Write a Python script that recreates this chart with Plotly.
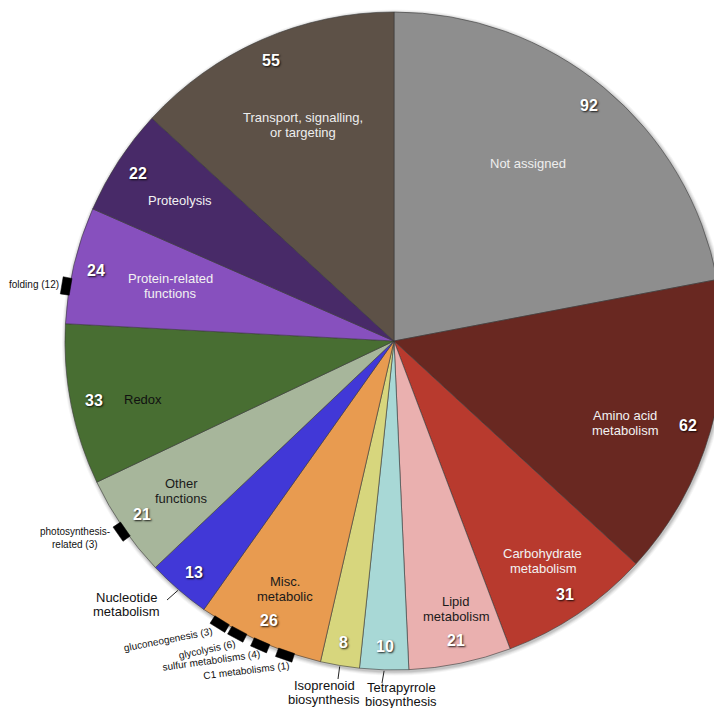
import math
import plotly.graph_objects as go

# ---------------- data ----------------
categories = ["Not assigned", "Amino acid metabolism", "Carbohydrate metabolism",
              "Lipid metabolism", "Tetrapyrrole biosynthesis", "Isoprenoid biosynthesis",
              "Misc. metabolic", "Nucleotide metabolism", "Other functions", "Redox",
              "Protein-related functions", "Proteolysis", "Transport, signalling, or targeting"]
values = [92, 62, 31, 21, 10, 8, 26, 13, 21, 33, 24, 22, 55]
label_text = ["Not assigned", "Amino acid<br>metabolism", "Carbohydrate<br>metabolism",
              "Lipid<br>metabolism", "Tetrapyrrole<br>biosynthesis", "Isoprenoid<br>biosynthesis",
              "Misc.<br>metabolic", "Nucleotide<br>metabolism", "Other<br>functions", "Redox",
              "Protein-related<br>functions", "Proteolysis", "Transport, signalling,<br>or targeting"]
# sub-category annotations (label, parent slice)
sub_labels = ["folding (12)", "photosynthesis-<br>related (3)", "gluconeogenesis (3)",
              "glycolysis (6)", "sulfur metabolisms (4)", "C1 metabolisms (1)"]
sub_parent = ["Protein-related functions", "Other functions", "Misc. metabolic",
              "Misc. metabolic", "Misc. metabolic", "Misc. metabolic"]

# ---------------- styles ----------------
colors = ["#8e8e8e", "#692821", "#b83a2e", "#eab0af", "#a8d8d6", "#d7d67d", "#e89b50",
          "#4138d7", "#a7b69b", "#486e32", "#8750be", "#482a68", "#5d5147"]
label_colors = ["#eeeeee", "#f2f2f2", "#f2f2f2", "#1a1a1a", "#1a1a1a", "#1a1a1a", "#1a1a1a",
                "#1a1a1a", "#1a1a1a", "#111111", "#f2f2f2", "#f2f2f2", "#eeeeee"]
# label placement: (angle offset from slice middle in deg, radius in px) ; None -> outside
label_place = [(-2.5, 222), (3.6, 245), (0, 266), (-1.4, 275), None, None, (-0.4, 271),
               None, (-0.8, 260), (-1.8, 258), (0.6, 230), (0, 256), (0.9, 234)]
# outside labels: index -> (text center px, leader end px)
outside = {4: ((393, 686), (374, 675)), 5: ((316, 684), (330, 671)), 7: ((118, 596), (159, 592))}
# sub-category marker angle offsets inside parent slice (deg from parent start)
sub_offsets = [6.5, 8.5, 18.7, 15.2, 10.8, 6.2]
sub_text_pos = [(53, 277), (67, 530), (160, 631), (199, 641), (203, 652), (238, 662)]
sub_text_anchor = ["right", "center", "center", "center", "center", "center"]
sub_text_angle = [0, 0, -11, -12, -8, -7]

W, H = 722, 708
CX, CY, R = 386, 333, 329


def paper(px, py):
    return px / W, 1 - py / H


def polar(a_deg, r):
    a = math.radians(a_deg)
    return CX + r * math.sin(a), CY - r * math.cos(a)


total = sum(values)
starts, mids = [], []
acc = 0
for v in values:
    starts.append(acc / total * 360)
    mids.append((acc + v / 2) / total * 360)
    acc += v

ann = []
shapes = []
FONT = "Liberation Sans, Arial, sans-serif"

# soft drop shadow behind the pie
for d, op in [(4, 0.04), (3, 0.05), (2, 0.07), (1, 0.09)]:
    x0, y0 = paper(CX - R - d + 1, CY + R + d + 1.5)
    x1, y1 = paper(CX + R + d + 1, CY - R - d + 1.5)
    shapes.append(dict(type="circle", xref="paper", yref="paper", x0=x0, x1=x1, y0=y0, y1=y1,
                       fillcolor=f"rgba(0,0,0,{op})", line=dict(width=0), layer="below"))

fig = go.Figure(go.Pie(
    labels=categories, values=values, sort=False, direction="clockwise", rotation=0,
    marker=dict(colors=colors, line=dict(color="#3a3a3a", width=0.6)),
    textinfo="none", hoverinfo="label+value", showlegend=False,
    domain=dict(x=[(CX - R) / W, (CX + R) / W], y=[1 - (CY + R) / H, 1 - (CY - R) / H]),
))


def add_text(px, py, text, size, color, bold=False, shadow=None, anchor="center", angle=0,
             spacing=None):
    lines = text.split("<br>")
    sp = spacing if spacing else size * 1.15
    for j, line in enumerate(lines):
        ly = py + (j - (len(lines) - 1) / 2) * sp
        x, y = paper(px, ly)
        f = dict(size=size, color=color, family=FONT)
        if shadow:
            f["shadow"] = shadow
        ann.append(dict(x=x, y=y, xref="paper", yref="paper",
                        text=f"<b>{line}</b>" if bold else line, showarrow=False,
                        xanchor=anchor, yanchor="middle", textangle=angle, font=f))


for i, v in enumerate(values):
    nx, ny = polar(mids[i], 306)
    add_text(nx, ny, str(v), 16, "white", bold=True, shadow="1px 1px 2px rgba(0,0,0,0.85)")
    if label_place[i] is not None:
        off, r = label_place[i]
        lx, ly = polar(mids[i] + off, r)
        add_text(lx, ly, label_text[i], 13, label_colors[i])
    else:
        (tx, ty), (ex, ey) = outside[i]
        add_text(tx, ty, label_text[i], 13, "#111111", spacing=14)
        sx, sy = polar(mids[i], R + 1)
        x0, y0 = paper(sx, sy)
        x1, y1 = paper(ex, ey)
        shapes.append(dict(type="line", xref="paper", yref="paper", x0=x0, y0=y0, x1=x1, y1=y1,
                           line=dict(color="#222222", width=1)))

# sub-category markers
for k, lab in enumerate(sub_labels):
    p = categories.index(sub_parent[k])
    a = starts[p] + sub_offsets[k]
    half = math.degrees(8.5 / R)
    pts = [polar(a - half, R - 1), polar(a + half, R - 1), polar(a + half, R + 8), polar(a - half, R + 8)]
    path = "M " + " L ".join("{:.5f},{:.5f}".format(*paper(*q)) for q in pts) + " Z"
    shapes.append(dict(type="path", xref="paper", yref="paper", path=path,
                       fillcolor="black", line=dict(color="black", width=0.5)))
    tx, ty = sub_text_pos[k]
    add_text(tx, ty, lab, 10, "#111111", anchor=sub_text_anchor[k], angle=sub_text_angle[k],
             spacing=13)

fig.update_layout(width=W, height=H, margin=dict(l=0, r=0, t=0, b=0),
                  paper_bgcolor="white", plot_bgcolor="white",
                  annotations=ann, shapes=shapes)
fig.write_html("out.html")
